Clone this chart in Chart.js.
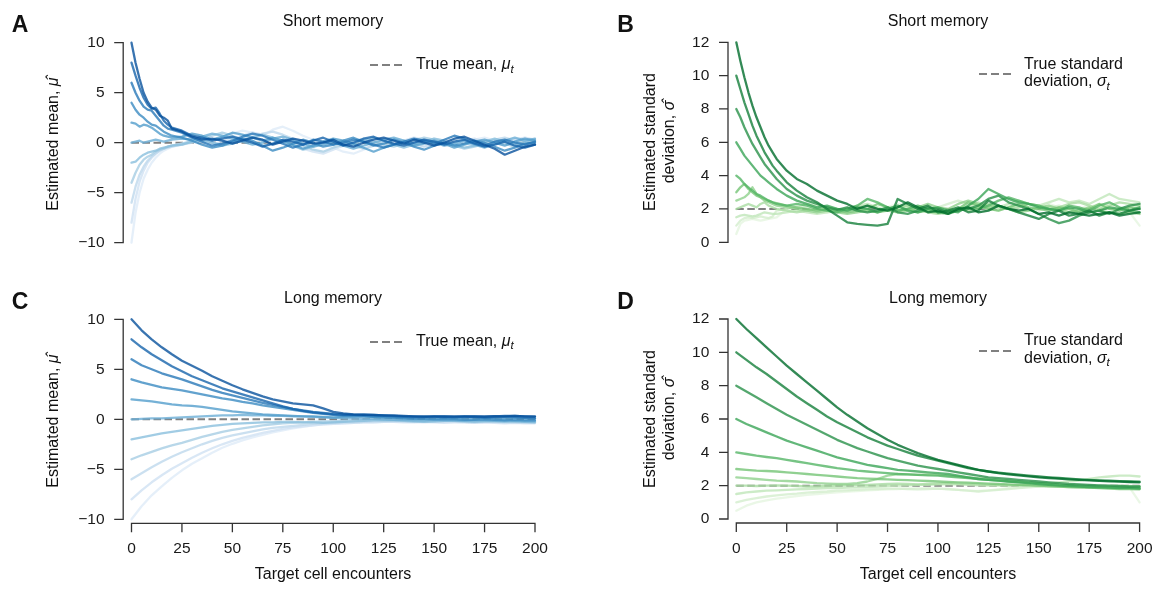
<!DOCTYPE html>
<html><head><meta charset="utf-8">
<script src="https://cdn.jsdelivr.net/npm/chart.js@4.4.1/dist/chart.umd.min.js"></script>
<style>
html,body{margin:0;padding:0;background:#fff}
body{width:1158px;height:589px;position:relative;overflow:hidden;font-family:"Liberation Sans",Arial,sans-serif;color:#111}
canvas{position:absolute}
.t{position:absolute;white-space:nowrap;font-size:16px;line-height:1}
.c{transform:translate(-50%,-50%)}
.l{transform:translate(0,-50%)}
.rot{transform:translate(-50%,-50%) rotate(-90deg);text-align:center}
.let{font-weight:bold;font-size:23px}
.sub{font-size:0.72em;position:relative;top:0.32em;line-height:0}
.dash{position:absolute}
</style></head>
<body>
<canvas id="cA" width="579" height="289" style="left:0;top:0"></canvas>
<canvas id="cB" width="579" height="289" style="left:579px;top:0"></canvas>
<canvas id="cC" width="579" height="300" style="left:0;top:289px"></canvas>
<canvas id="cD" width="579" height="300" style="left:579px;top:289px"></canvas>

<div class="t c let" style="left:20px;top:24px">A</div>
<div class="t c let" style="left:625.5px;top:24px">B</div>
<div class="t c let" style="left:20px;top:301px">C</div>
<div class="t c let" style="left:625.5px;top:301px">D</div>

<div class="t c" style="left:333px;top:20.8px">Short memory</div>
<div class="t c" style="left:938px;top:20.8px">Short memory</div>
<div class="t c" style="left:333px;top:298.3px">Long memory</div>
<div class="t c" style="left:938px;top:298.3px">Long memory</div>

<div class="t rot" style="left:53px;top:144px">Estimated mean, <i>&mu;&#770;</i></div>
<div class="t rot" style="left:53px;top:421px">Estimated mean, <i>&mu;&#770;</i></div>
<div class="t rot" style="left:659px;top:142.3px;line-height:19.2px">Estimated standard<br>deviation, <i>&sigma;&#770;</i></div>
<div class="t rot" style="left:659px;top:419px;line-height:19.2px">Estimated standard<br>deviation, <i>&sigma;&#770;</i></div>

<div class="t c" style="left:333px;top:573.5px">Target cell encounters</div>
<div class="t c" style="left:938px;top:573.5px">Target cell encounters</div>

<svg class="dash" style="left:370px;top:63px" width="32" height="4"><line x1="0" y1="2" x2="32" y2="2" stroke="#808080" stroke-width="2" stroke-dasharray="8 4"/></svg>
<div class="t l" style="left:416px;top:64px">True mean, <i>&mu;</i><span class="sub"><i>t</i></span></div>
<svg class="dash" style="left:370px;top:339.7px" width="32" height="4"><line x1="0" y1="2" x2="32" y2="2" stroke="#808080" stroke-width="2" stroke-dasharray="8 4"/></svg>
<div class="t l" style="left:416px;top:340.5px">True mean, <i>&mu;</i><span class="sub"><i>t</i></span></div>
<svg class="dash" style="left:978.5px;top:72px" width="32" height="4"><line x1="0" y1="2" x2="32" y2="2" stroke="#808080" stroke-width="2" stroke-dasharray="8 4"/></svg>
<div class="t l" style="left:1024px;top:72.5px;line-height:17.6px">True standard<br>deviation, <i>&sigma;</i><span class="sub"><i>t</i></span></div>
<svg class="dash" style="left:978.5px;top:349px" width="32" height="4"><line x1="0" y1="2" x2="32" y2="2" stroke="#808080" stroke-width="2" stroke-dasharray="8 4"/></svg>
<div class="t l" style="left:1024px;top:349px;line-height:17.6px">True standard<br>deviation, <i>&sigma;</i><span class="sub"><i>t</i></span></div>

<script>
// ---------- x positions (target cell encounters) ----------
const shortX = [0,2,4,6,8,10,12,14,16,18,20,25,30,35,40,45,50,55,60,65,70,75,80,85,90,95,100,105,110,115,120,125,130,135,140,145,150,155,160,165,170,175,180,185,190,195,200];
const longX = [0,5,10,15,20,25,30,35,40,45,50,55,60,65,70,75,80,85,90,95,100,105,110,115,120,125,130,135,140,145,150,155,160,165,170,175,180,185,190,195,200];
const trueX = [0, 200];
const trueMean = [0, 0];
const trueSd = [2, 2];

// ---------- A: short memory, estimated mean ----------
const shortMean_10 = [10,8.0,6.4,5.0,4.1,3.5,3.3,2.7,2.5,2.2,1.4, 1.1,0.6,0.3,0.4,0.2,-0.1,0.2,0.5,0.3,-0.2,0.1,0.4,0.2,-0.1,0.0,0.3,-0.2,-0.4,0.0,0.3,0.5,0.2,-0.1,0.3,0.0,-0.3,0.0,0.4,0.6,0.2,-0.2,-0.6,-1.2,-0.8,-0.4,-0.2];
const shortMean_8 = [8,6.7,5.5,4.5,3.8,3.4,3.5,2.9,2.2,1.8,1.5, 1.2,0.7,0.5,0.2,0.4,0.6,0.3,0.0,-0.4,-0.1,0.3,0.1,-0.2,0.2,0.5,0.1,-0.3,0.0,0.4,0.6,0.2,-0.1,-0.3,0.0,0.3,0.1,-0.2,0.1,0.3,-0.1,-0.4,-0.2,0.1,-0.3,-0.5,-0.2];
const shortMean_6 = [6,5.0,4.2,3.6,3.3,3.2,2.7,2.2,1.7,1.4,1.3, 1.0,0.5,0.1,-0.3,-0.1,0.2,0.6,0.9,0.7,0.3,-0.1,-0.5,-0.2,0.3,0.1,-0.2,0.0,0.3,0.1,-0.2,-0.5,-0.2,0.1,0.4,0.2,-0.1,0.3,0.7,0.4,0.0,-0.3,0.1,0.3,0.0,-0.2,0.1];
const shortMean_4 = [4,3.3,2.8,2.5,2.1,1.8,1.7,1.4,1.1,0.9,0.7, 0.5,0.2,-0.2,-0.5,-0.3,0.1,0.4,0.2,-0.3,-0.8,-0.5,-0.1,0.3,0.0,-0.4,-0.2,0.2,0.5,0.1,-0.3,-0.1,0.3,0.0,-0.4,-0.7,-0.3,0.0,-0.3,-0.1,0.2,0.0,-0.4,-0.8,-0.5,-0.1,0.0];
const shortMean_2 = [2,1.9,1.6,1.8,1.7,1.5,1.2,0.9,0.7,0.6,0.5, 0.6,0.9,0.7,0.3,0.6,1.0,0.8,0.5,0.2,0.5,0.2,-0.2,-0.6,-0.3,0.1,0.4,0.2,-0.1,-0.5,-0.9,-0.5,-0.2,0.1,-0.3,-0.1,0.2,-0.1,-0.5,-0.2,0.1,0.3,0.0,-0.3,0.1,0.4,0.2];
const shortMean_0 = [0,0.1,0.2,0.0,0.1,0.2,0.3,0.2,0.1,0.2,0.3, 0.4,0.3,0.6,0.9,0.7,0.4,0.1,-0.2,0.0,0.4,0.6,0.3,-0.1,-0.4,-0.2,0.1,-0.3,-0.6,-0.3,0.0,0.3,0.5,0.2,-0.1,0.2,0.0,-0.3,-0.1,0.2,-0.2,-0.5,-0.1,0.2,0.5,0.2,0.4];
const shortMean_m2 = [-2,-1.9,-1.5,-1.2,-1.0,-0.9,-0.8,-0.6,-0.5,-0.4,-0.3, -0.2,0.1,0.3,0.0,-0.3,-0.1,0.2,0.5,0.8,0.5,0.1,-0.3,-0.7,-0.4,0.0,0.3,0.0,-0.2,0.2,0.5,0.2,-0.2,-0.5,-0.2,0.1,0.4,0.2,-0.2,-0.5,-0.3,0.1,0.4,0.1,-0.2,0.1,0.3];
const shortMean_m4 = [-4,-3.0,-2.2,-1.7,-1.4,-1.2,-0.9,-0.7,-0.6,-0.4,-0.3, -0.1,0.1,0.4,0.7,1.0,0.7,0.3,0.0,-0.3,-0.1,0.2,0.0,-0.3,-0.7,-0.9,-0.5,-0.2,0.1,0.4,0.1,-0.2,-0.4,-0.1,0.2,0.5,0.3,0.0,-0.3,-0.6,-0.4,-0.1,0.2,-0.1,-0.4,-0.1,0.1];
const shortMean_m6 = [-6,-4.4,-3.2,-2.4,-1.8,-1.4,-1.1,-0.8,-0.6,-0.5,-0.4, -0.2,0.0,0.2,0.0,-0.2,0.1,0.4,0.6,0.9,1.1,0.8,0.4,0.0,-0.4,-0.2,0.2,0.0,-0.3,-0.6,-0.3,0.1,0.4,0.2,-0.1,-0.4,-0.2,0.1,0.3,0.0,-0.3,0.0,0.3,0.5,0.2,-0.2,0.0];
const shortMean_m8 = [-8,-5.6,-3.9,-2.8,-2.0,-1.5,-1.1,-0.8,-0.6,-0.4,-0.3, -0.1,0.2,0.0,-0.2,0.1,0.4,0.7,1.0,0.8,0.4,0.0,-0.3,-0.6,-0.9,-1.1,-0.7,-0.3,0.0,0.3,0.0,-0.3,-0.1,0.2,0.5,0.3,0.0,-0.3,-0.1,0.2,0.4,0.1,-0.2,0.0,0.3,0.5,0.3];
const shortMean_m10 = [-10,-7.0,-5.0,-3.6,-2.7,-2.0,-1.5,-1.1,-0.8,-0.6,-0.4, -0.2,0.1,0.4,0.2,0.5,0.9,1.2,1.0,0.7,1.3,1.6,1.2,0.7,0.3,-0.1,-0.5,-0.9,-1.1,-0.7,-0.3,0.0,0.3,0.1,-0.2,0.1,0.4,0.2,-0.1,0.1,0.3,0.5,0.2,0.0,0.3,0.4,0.2];

// ---------- B: short memory, estimated standard deviation ----------
const shortSd_12 = [12,10.9,9.9,9.0,8.2,7.5,6.9,6.3,5.8,5.4,5.0, 4.3,3.8,3.5,3.1,2.8,2.5,2.3,2.0,2.2,2.0,1.9,2.1,2.4,2.1,1.8,1.9,1.7,2.0,2.1,1.8,1.9,2.2,2.0,1.9,2.0,1.7,1.8,1.6,1.8,1.7,1.6,1.7,1.8,1.6,1.7,1.8];
const shortSd_10 = [10,9.2,8.4,7.7,7.0,6.4,5.9,5.4,5.0,4.6,4.3, 3.6,3.1,2.7,2.4,2.0,1.6,1.2,1.1,1.05,1.0,1.1,2.6,2.3,2.0,2.2,1.8,1.9,2.1,1.8,1.9,2.5,2.2,2.0,1.8,1.6,1.4,1.7,1.9,1.6,1.7,1.9,1.6,1.8,1.7,1.9,2.0];
const shortSd_8 = [8,7.5,6.9,6.4,5.9,5.5,5.1,4.7,4.4,4.1,3.8, 3.2,2.8,2.5,2.3,2.1,1.95,2.1,1.9,1.8,1.9,2.1,1.8,1.7,1.9,2.1,2.0,1.8,1.9,2.0,2.2,2.6,2.8,2.4,2.2,2.0,1.7,1.4,1.15,1.3,1.6,1.8,1.9,1.7,2.0,2.2,2.3];
const shortSd_6 = [6,5.6,5.2,4.9,4.6,4.3,4.0,3.8,3.6,3.4,3.2, 2.8,2.5,2.3,2.1,2.2,2.0,1.9,2.1,2.0,1.8,2.0,2.2,1.9,1.8,2.0,2.1,1.9,1.8,2.2,2.6,3.2,2.9,2.6,2.4,2.3,2.1,2.0,1.9,2.1,2.0,1.8,1.9,2.1,2.0,1.9,2.1];
const shortSd_4 = [4,3.8,3.5,3.3,3.1,2.9,2.8,2.65,2.5,2.4,2.3, 2.2,2.3,2.2,2.0,1.9,1.8,2.0,2.2,2.6,2.4,2.1,1.9,2.0,2.2,2.0,1.8,1.7,1.9,2.1,2.0,2.2,2.5,2.7,2.5,2.3,2.2,2.0,1.9,2.2,2.1,1.9,2.2,2.4,2.1,1.9,1.8];
const shortSd_3 = [3.0,3.3,3.5,3.2,3.0,2.8,2.7,2.6,2.5,2.4,2.35, 2.2,2.1,2.0,1.9,2.0,1.9,1.8,1.9,2.0,2.3,2.1,1.9,2.0,1.8,1.9,1.8,1.9,2.0,2.4,2.2,2.0,1.9,2.1,2.3,2.1,2.0,1.9,2.1,2.0,1.8,2.0,2.3,2.0,1.9,2.1,2.0];
const shortSd_2_5 = [2.5,2.6,2.7,2.9,3.3,2.9,2.7,2.5,2.4,2.3,2.2, 2.1,2.0,1.9,1.8,1.9,1.8,1.7,1.8,1.9,1.8,1.9,1.8,1.9,2.1,2.3,2.1,2.0,2.3,2.5,2.3,2.1,2.2,2.0,1.8,1.9,2.1,2.2,2.0,1.8,1.9,2.1,1.9,1.8,1.7,1.8,1.7];
const shortSd_2 = [2.0,2.1,2.2,2.3,2.2,2.1,2.3,2.4,2.2,2.1,2.0, 1.9,1.8,1.9,2.0,2.1,2.0,1.9,2.1,2.2,2.0,1.9,2.1,2.2,2.0,1.8,1.7,1.8,2.0,1.9,2.1,2.3,2.1,2.0,2.1,2.3,2.2,2.0,2.1,2.3,2.4,2.2,2.0,2.2,2.4,2.3,2.2];
const shortSd_1_5 = [1.5,1.6,1.65,1.6,1.55,1.6,1.7,1.8,1.75,1.7,1.7, 1.8,1.9,1.8,1.7,1.8,1.9,2.0,2.2,2.3,2.1,1.9,2.0,2.2,2.1,2.0,1.9,1.8,2.0,2.2,2.4,2.2,2.1,2.3,2.5,2.3,2.2,2.4,2.6,2.4,2.5,2.3,2.6,2.9,2.6,2.5,2.4];
const shortSd_1 = [1.0,1.3,1.45,1.5,1.45,1.5,1.55,1.5,1.45,1.55,1.9, 2.0,2.1,2.3,2.2,2.0,1.9,2.0,2.1,1.9,1.8,2.0,2.2,2.1,2.0,1.9,2.1,2.3,2.5,2.3,2.1,2.0,1.9,2.1,2.2,2.0,1.9,2.1,2.2,2.0,1.9,2.1,2.3,2.2,2.0,2.1,2.2];
const shortSd_0_5 = [0.5,1.1,1.3,1.35,1.4,1.35,1.3,1.35,1.4,1.45,1.5, 2.0,2.2,2.1,1.9,1.8,1.9,2.1,2.0,1.8,1.9,2.1,2.3,2.2,2.0,1.8,1.7,1.9,2.1,2.0,1.8,1.9,2.1,2.2,2.0,1.9,2.1,2.3,2.1,1.9,2.0,2.2,2.1,2.0,1.9,1.8,1.0];

// ---------- C: long memory, estimated mean ----------
const longMean_10 = [10.0,8.9,8.0,7.2,6.5,5.85,5.35,4.85,4.3,3.85,3.4,3.0,2.65,2.3,2.0,1.8,1.6,1.5,1.4,1.1,0.75,0.6,0.5,0.45,0.45,0.4,0.4,0.35,0.3,0.3,0.3,0.28,0.3,0.3,0.28,0.28,0.32,0.3,0.35,0.3,0.3];
const longMean_8 = [8,7.2,6.5,5.9,5.3,4.8,4.3,3.9,3.5,3.1,2.8,2.5,2.2,1.9,1.6,1.3,1.05,0.85,0.7,0.6,0.5,0.45,0.45,0.5,0.45,0.4,0.35,0.3,0.3,0.25,0.3,0.3,0.25,0.3,0.3,0.25,0.3,0.35,0.35,0.3,0.25];
const longMean_6 = [6.0,5.4,5.0,4.6,4.3,4.0,3.65,3.3,2.95,2.65,2.4,2.15,1.9,1.65,1.45,1.25,1.05,0.9,0.75,0.65,0.55,0.5,0.45,0.4,0.35,0.35,0.3,0.25,0.2,0.2,0.25,0.2,0.2,0.25,0.2,0.15,0.2,0.25,0.2,0.15,0.1];
const longMean_4 = [4,3.7,3.45,3.2,3.05,2.9,2.7,2.5,2.3,2.1,1.95,1.75,1.6,1.4,1.25,1.1,0.95,0.8,0.65,0.55,0.45,0.35,0.3,0.3,0.25,0.2,0.15,0.1,0.05,0.05,0.0,0.0,0.0,-0.05,-0.05,0.0,-0.05,-0.1,-0.05,-0.1,-0.1];
const longMean_2 = [2,1.9,1.8,1.65,1.5,1.4,1.35,1.25,1.1,0.95,0.8,0.7,0.6,0.5,0.45,0.4,0.35,0.3,0.3,0.25,0.2,0.25,0.3,0.3,0.25,0.2,0.2,0.15,0.2,0.25,0.2,0.15,0.1,0.15,0.2,0.15,0.1,0.1,0.15,0.1,0.05];
const longMean_0 = [0,0.05,0.1,0.1,0.15,0.2,0.25,0.3,0.35,0.4,0.4,0.45,0.4,0.4,0.35,0.35,0.3,0.3,0.25,0.2,0.15,0.1,0.1,0.05,0.05,0,-0.05,-0.05,-0.1,-0.1,-0.05,-0.1,-0.1,-0.15,-0.1,-0.1,-0.15,-0.1,-0.15,-0.2,-0.2];
const longMean_m2 = [-2,-1.8,-1.6,-1.4,-1.25,-1.1,-0.95,-0.8,-0.65,-0.55,-0.45,-0.4,-0.35,-0.3,-0.3,-0.25,-0.25,-0.3,-0.3,-0.35,-0.3,-0.25,-0.2,-0.15,-0.1,-0.1,-0.1,-0.15,-0.2,-0.25,-0.2,-0.15,-0.15,-0.2,-0.25,-0.2,-0.2,-0.25,-0.2,-0.25,-0.3];
const longMean_m4 = [-4,-3.6,-3.25,-2.9,-2.6,-2.35,-2.05,-1.75,-1.5,-1.25,-1.05,-0.9,-0.75,-0.6,-0.5,-0.4,-0.35,-0.3,-0.25,-0.2,-0.2,-0.15,-0.1,-0.1,-0.05,-0.05,-0.05,-0.1,-0.15,-0.15,-0.1,-0.05,-0.1,-0.1,-0.15,-0.15,-0.1,-0.15,-0.2,-0.15,-0.2];
const longMean_m6 = [-6,-5.4,-4.8,-4.25,-3.75,-3.3,-2.9,-2.5,-2.15,-1.85,-1.6,-1.4,-1.2,-1.0,-0.85,-0.75,-0.65,-0.55,-0.45,-0.4,-0.35,-0.3,-0.3,-0.25,-0.2,-0.2,-0.15,-0.2,-0.25,-0.2,-0.25,-0.2,-0.2,-0.25,-0.3,-0.25,-0.25,-0.3,-0.3,-0.35,-0.35];
const longMean_m8 = [-8,-7.1,-6.3,-5.6,-4.95,-4.4,-3.85,-3.35,-2.9,-2.5,-2.15,-1.85,-1.6,-1.35,-1.15,-0.95,-0.8,-0.7,-0.6,-0.5,-0.45,-0.4,-0.35,-0.3,-0.3,-0.25,-0.25,-0.3,-0.3,-0.25,-0.3,-0.35,-0.3,-0.3,-0.35,-0.3,-0.35,-0.4,-0.35,-0.4,-0.4];
const longMean_m10 = [-10,-8.7,-7.6,-6.7,-5.85,-5.1,-4.45,-3.9,-3.35,-2.85,-2.45,-2.1,-1.8,-1.55,-1.3,-1.1,-0.9,-0.75,-0.6,-0.5,-0.45,-0.4,-0.35,-0.3,-0.3,-0.25,-0.25,-0.2,-0.25,-0.3,-0.25,-0.2,-0.25,-0.3,-0.3,-0.25,-0.3,-0.3,-0.35,-0.3,-0.35];

// ---------- D: long memory, estimated standard deviation ----------
const longSd_12 = [12.0,11.4,10.85,10.3,9.75,9.2,8.7,8.2,7.7,7.2,6.7,6.25,5.85,5.45,5.1,4.75,4.45,4.2,3.95,3.75,3.55,3.4,3.25,3.1,2.95,2.85,2.75,2.68,2.62,2.56,2.5,2.46,2.42,2.38,2.35,2.32,2.29,2.26,2.24,2.22,2.2];
const longSd_10 = [10,9.55,9.1,8.7,8.25,7.8,7.35,6.95,6.55,6.15,5.8,5.5,5.2,4.9,4.65,4.4,4.2,4.0,3.8,3.65,3.5,3.35,3.2,3.05,2.95,2.85,2.78,2.72,2.66,2.6,2.55,2.5,2.46,2.42,2.38,2.35,2.32,2.3,2.27,2.25,2.24];
const longSd_8 = [8,7.65,7.3,6.95,6.6,6.25,5.95,5.65,5.35,5.05,4.75,4.5,4.25,4.05,3.85,3.65,3.5,3.35,3.2,3.1,3.0,2.9,2.8,2.7,2.6,2.5,2.45,2.4,2.35,2.3,2.25,2.2,2.15,2.1,2.08,2.05,2.02,2.0,1.98,1.95,1.95];
const longSd_6 = [6.0,5.7,5.45,5.2,4.95,4.7,4.5,4.3,4.1,3.9,3.7,3.55,3.4,3.25,3.15,3.05,2.95,2.9,2.85,2.8,2.75,2.7,2.6,2.5,2.4,2.35,2.3,2.25,2.2,2.15,2.1,2.05,2.0,1.98,1.95,1.92,1.9,1.88,1.85,1.85,1.82];
const longSd_4 = [4.0,3.9,3.8,3.72,3.65,3.55,3.45,3.35,3.25,3.15,3.05,2.98,2.9,2.85,2.8,2.75,2.7,2.68,2.65,2.62,2.6,2.55,2.5,2.45,2.4,2.35,2.3,2.25,2.22,2.18,2.15,2.1,2.05,2.02,2.0,1.98,1.95,1.92,1.9,1.9,1.88];
const longSd_3 = [3.0,2.95,2.9,2.88,2.85,2.8,2.75,2.7,2.65,2.6,2.55,2.5,2.45,2.42,2.4,2.38,2.35,2.33,2.3,2.28,2.25,2.22,2.2,2.18,2.15,2.12,2.1,2.08,2.05,2.03,2.0,1.98,1.95,1.92,1.9,1.88,1.85,1.82,1.8,1.8,1.78];
const longSd_2_5 = [2.5,2.45,2.4,2.35,2.3,2.28,2.25,2.2,2.15,2.12,2.1,2.1,2.15,2.25,2.4,2.6,2.7,2.68,2.65,2.68,2.65,2.6,2.55,2.5,2.45,2.4,2.35,2.3,2.25,2.2,2.15,2.1,2.05,2.0,1.95,1.92,1.9,1.88,1.85,1.85,1.82];
const longSd_2 = [2.0,2.0,1.98,2.0,2.02,2.0,1.98,1.95,1.95,1.98,2.0,2.02,2.05,2.05,2.08,2.1,2.12,2.1,2.08,2.1,2.12,2.15,2.12,2.1,2.08,2.05,2.05,2.02,2.0,2.0,1.98,1.95,1.95,1.92,1.9,1.88,1.9,1.92,1.95,1.95,1.95];
const longSd_1_5 = [1.5,1.6,1.65,1.7,1.72,1.75,1.78,1.8,1.82,1.85,1.85,1.88,1.9,1.92,1.95,1.98,2.0,2.02,2.05,2.05,2.08,2.1,2.08,2.05,2.02,2.0,2.0,2.02,2.05,2.08,2.1,2.15,2.2,2.25,2.3,2.4,2.5,2.55,2.6,2.6,2.55];
const longSd_1 = [1.0,1.15,1.25,1.35,1.42,1.48,1.52,1.58,1.62,1.65,1.7,1.72,1.75,1.78,1.8,1.82,1.82,1.8,1.78,1.8,1.82,1.8,1.75,1.7,1.65,1.7,1.75,1.8,1.85,1.9,1.95,2.0,2.0,2.0,1.98,1.95,1.95,1.98,2.0,1.98,1.95];
const longSd_0_5 = [0.5,0.8,1.0,1.12,1.22,1.3,1.38,1.45,1.5,1.55,1.6,1.65,1.68,1.72,1.75,1.78,1.8,1.82,1.85,1.85,1.82,1.78,1.75,1.7,1.68,1.72,1.78,1.85,1.9,1.95,2.0,2.0,1.98,1.95,1.95,1.98,2.0,1.98,1.95,1.9,1.0];

// tick labels
const meanTicks = [-10,-5,0,5,10];
const sdTicks = [0,2,4,6,8,10,12];
const xTicks = [0,25,50,75,100,125,150,175,200];

// ---------- styling ----------
const blues = ['#08519c','#1764ab','#2878b8','#3b8bc2','#529dcc','#6baed6','#8abfdd','#a6cde4','#bed8ec','#d0e1f2','#deebf7'];
const greens = ['#006d2c','#157f3b','#29914a','#3ba558','#55b567','#74c476','#8fd18c','#a9dca2','#bfe6b9','#d3eecd','#e5f5e0'];

Chart.defaults.font.family = '"Liberation Sans", Arial, sans-serif';

function lineSet(xs, ys, color) {
  return { data: ys.map((v, i) => ({ x: xs[i], y: v })), borderColor: color + 'cc', borderWidth: 2.3,
           pointRadius: 0, tension: 0, fill: false, clip: false, borderJoinStyle: 'round', borderCapStyle: 'round' };
}
function trueSet(xs, ys) {
  return { data: ys.map((v, i) => ({ x: xs[i], y: v })), borderColor: '#808080', borderWidth: 2,
           borderDash: [7.5, 3.5], pointRadius: 0, fill: false, clip: false };
}

const spinePlugin = {
  id: 'spines',
  afterDraw(chart, args, opts) {
    const ctx = chart.ctx, ys = chart.scales.y, xs = chart.scales.x, a = chart.chartArea;
    ctx.save();
    ctx.strokeStyle = '#333'; ctx.lineWidth = 1.3;
    const sx = a.left - opts.yGap;
    ctx.beginPath();
    ctx.moveTo(sx, ys.getPixelForValue(ys.max) - 0.65); ctx.lineTo(sx, ys.getPixelForValue(ys.min) + 0.65);
    opts.yTicks.forEach(v => { const p = ys.getPixelForValue(v); ctx.moveTo(sx - 9, p); ctx.lineTo(sx, p); });
    if (opts.xAxis) {
      const sy = a.bottom + 4;
      ctx.moveTo(xs.getPixelForValue(xs.min) - 0.65, sy); ctx.lineTo(xs.getPixelForValue(xs.max) + 0.65, sy);
      opts.xTicks.forEach(v => { const p = xs.getPixelForValue(v); ctx.moveTo(p, sy); ctx.lineTo(p, sy + 9); });
    }
    ctx.stroke();
    ctx.restore();
  }
};

const fmt = v => (v < 0 ? '\u2212' + Math.abs(v) : String(v));

function noAutoPad(s) { s.paddingTop = 0; s.paddingBottom = 0; s.paddingLeft = 0; s.paddingRight = 0; }

function makeChart(id, xs, series, trueXs, trueYs, colors, yMin, yMax, yStep, yTicks, showX, pad, yWidth) {
  const datasets = series.map((s, i) => lineSet(xs, s, colors[i]));
  datasets.push(trueSet(trueXs, trueYs));
  return new Chart(document.getElementById(id), {
    type: 'line',
    data: { datasets },
    plugins: [spinePlugin],
    options: {
      responsive: false, animation: false, devicePixelRatio: 1,
      layout: { padding: pad, autoPadding: false },
      plugins: { legend: { display: false }, tooltip: { enabled: false }, title: { display: false },
                 spines: { yGap: 8.3, xAxis: showX, yTicks: yTicks, xTicks: xTicks } },
      scales: {
        x: { type: 'linear', min: 0, max: 200, display: showX,
             grid: { display: false, drawTicks: false }, border: { display: false },
             ticks: { stepSize: 25, padding: 20, autoSkip: false, maxRotation: 0, color: '#1a1a1a', font: { size: 15.5 } },
             afterFit: s => { s.height = showX ? 50 : 0; noAutoPad(s); } },
        y: { type: 'linear', min: yMin, max: yMax,
             grid: { display: false, drawTicks: false }, border: { display: false },
             ticks: { stepSize: yStep, padding: 27, color: '#1a1a1a', font: { size: 15.5 }, callback: fmt },
             afterFit: s => { s.width = yWidth; noAutoPad(s); } }
      }
    }
  });
}

const seriesA = [shortMean_10, shortMean_8, shortMean_6, shortMean_4, shortMean_2, shortMean_0, shortMean_m2, shortMean_m4, shortMean_m6, shortMean_m8, shortMean_m10];
const seriesB = [shortSd_12, shortSd_10, shortSd_8, shortSd_6, shortSd_4, shortSd_3, shortSd_2_5, shortSd_2, shortSd_1_5, shortSd_1, shortSd_0_5];
const seriesC = [longMean_10, longMean_8, longMean_6, longMean_4, longMean_2, longMean_0, longMean_m2, longMean_m4, longMean_m6, longMean_m8, longMean_m10];
const seriesD = [longSd_12, longSd_10, longSd_8, longSd_6, longSd_4, longSd_3, longSd_2_5, longSd_2, longSd_1_5, longSd_1, longSd_0_5];

makeChart('cA', shortX, seriesA, trueX, trueMean, blues, -10, 10, 5, meanTicks, false, { left: 0, top: 42.7, right: 44, bottom: 46.3 }, 131.5);
makeChart('cB', shortX, seriesB, trueX, trueSd, greens, 0, 12, 2, sdTicks, false, { left: 0, top: 42.3, right: 18.4, bottom: 46.7 }, 157.3);
makeChart('cC', longX, seriesC, trueX, trueMean, blues, -10, 10, 5, meanTicks, true, { left: 0, top: 30.3, right: 44, bottom: 19.7 }, 131.5);
makeChart('cD', longX, seriesD, trueX, trueSd, greens, 0, 12, 2, sdTicks, true, { left: 0, top: 30, right: 18.4, bottom: 20 }, 157.3);
</script>
</body></html>
